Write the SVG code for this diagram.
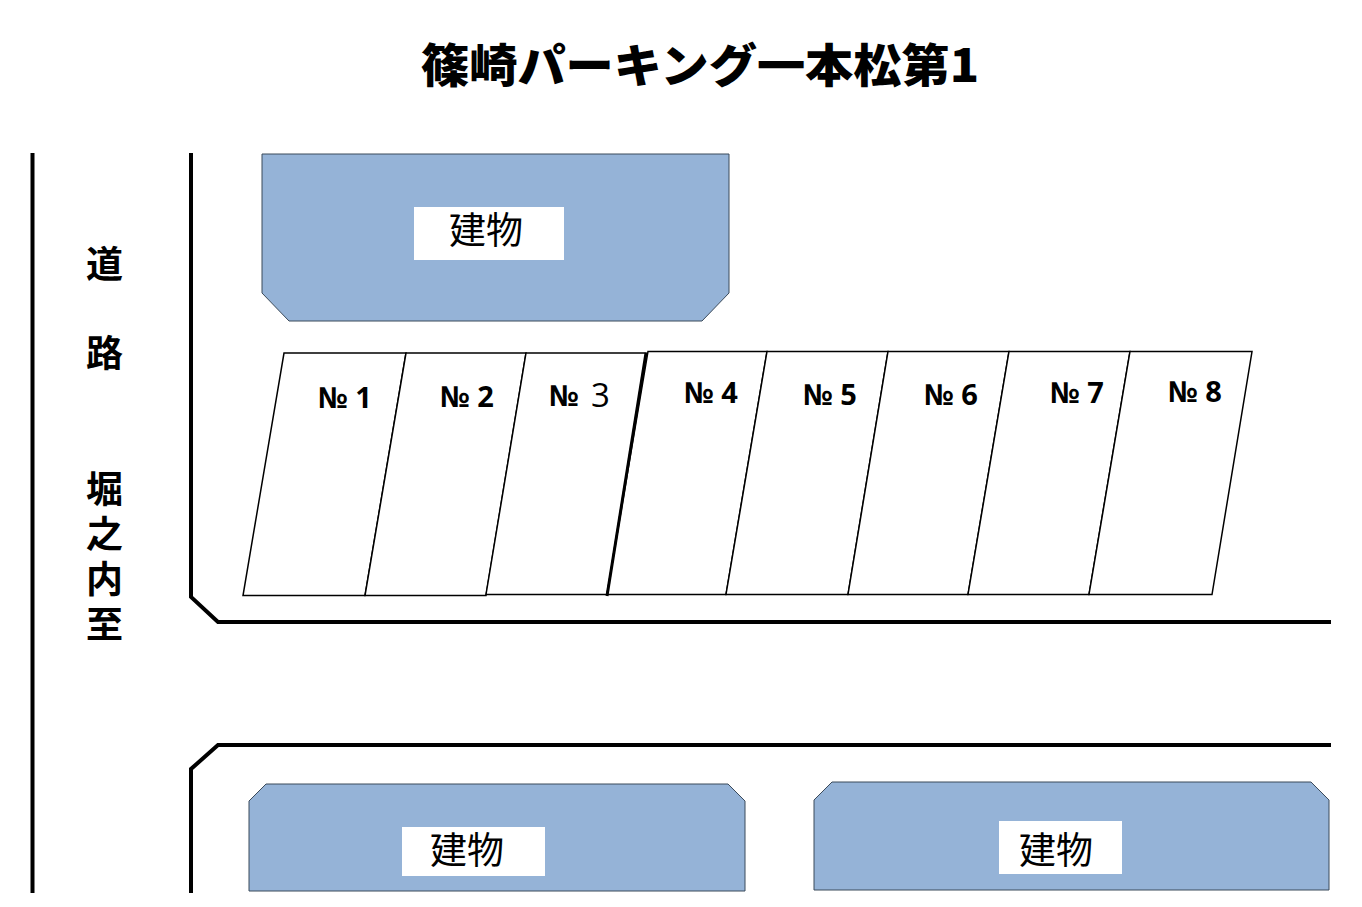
<svg xmlns="http://www.w3.org/2000/svg" width="1362" height="907" viewBox="0 0 1362 907">
<style>
.road{fill:none;stroke:#000;stroke-width:4}
.bld{fill:#95b3d7;stroke:#3b4a5a;stroke-width:1}
.lot{fill:#fff;stroke:#000;stroke-width:1.500}
.lbl{fill:#fff}
text{font-family:"Noto Sans CJK JP","Liberation Sans",sans-serif;fill:#000}
.t{font-size:46px;font-weight:900}
.r{font-size:37px;font-weight:700}
.v{writing-mode:vertical-rl;letter-spacing:8px}
.b{font-size:37px}
.n{font-family:"Open Sans","Noto Sans CJK JP",sans-serif;font-size:29px;font-weight:700}
.d{font-weight:500;font-size:33px}
</style>
<rect width="1362" height="907" fill="#fff"/>
<text class="t" x="421" y="82" textLength="558" lengthAdjust="spacingAndGlyphs">篠崎パーキング一本松第1</text>
<g id="connectors">
<path class="road" d="M32.500 153V893"/>
<path class="road" d="M191 153V597L218 622H1331"/>
<path class="road" d="M191 893V769L218 745H1331"/>
</g>
<g id="road-label">
<text class="r" x="86" y="278">道</text>
<text class="r" x="86" y="367">路</text>
<text class="r v" x="104.500" y="470">堀之内至</text>
</g>
<g id="building-1">
<path class="bld" d="M262 154H729V293L702 321H289L262 293Z"/>
<rect class="lbl" x="414" y="207" width="150" height="53"/>
<text class="b" x="449" y="244">建物</text>
</g>
<g id="building-2">
<path class="bld" d="M266 784H728L745 801V891H249V801Z"/>
<rect class="lbl" x="402" y="827" width="143" height="49"/>
<text class="b" x="430" y="864">建物</text>
</g>
<g id="building-3">
<path class="bld" d="M832 782H1311L1329 800V890H814V800Z"/>
<rect class="lbl" x="999" y="821" width="123" height="53"/>
<text class="b" x="1019" y="864">建物</text>
</g>
<g id="lot-1"><path class="lot" d="M284 353H406L365 595.500H243Z"/><text class="n" x="318" y="408">№ 1</text></g>
<g id="lot-2"><path class="lot" d="M406 353H526L486 595.500H365Z"/><text class="n" x="440" y="407">№ 2</text></g>
<g id="lot-3"><path class="lot" d="M526 353H646L607 594.500H486Z"/><text class="n" x="549" y="406">№</text><text class="n d" x="591" y="407">3</text></g>
<g id="lot-4"><path class="lot" d="M648 351.500H767L726 594.500H607Z"/><text class="n" x="684" y="403">№ 4</text></g>
<g id="lot-5"><path class="lot" d="M767 351.500H888L848 594.500H726Z"/><text class="n" x="803" y="405">№ 5</text></g>
<g id="lot-6"><path class="lot" d="M888 351.500H1009L968 594.500H848Z"/><text class="n" x="924" y="405">№ 6</text></g>
<g id="lot-7"><path class="lot" d="M1009 351.500H1130L1089 594.500H968Z"/><text class="n" x="1050" y="403">№ 7</text></g>
<g id="lot-8"><path class="lot" d="M1130 351.500H1252L1212 594.500H1089Z"/><text class="n" x="1168" y="402">№ 8</text></g>
<path d="M646 353L607 596" stroke="#000" stroke-width="3" fill="none"/>
</svg>
